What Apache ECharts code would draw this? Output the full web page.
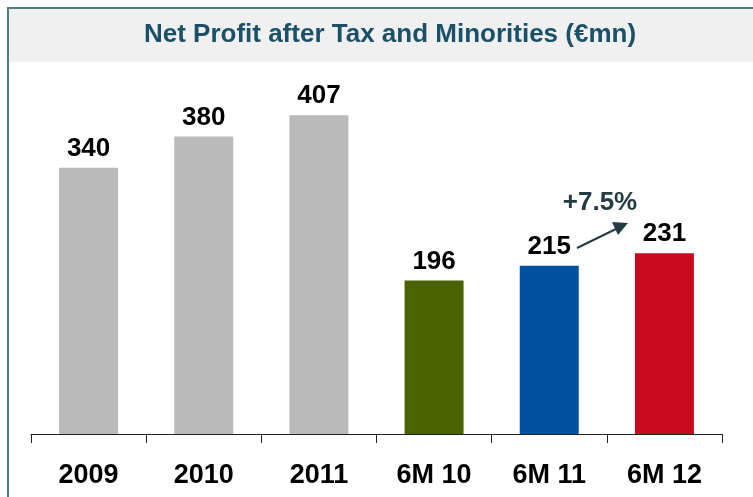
<!DOCTYPE html>
<html>
<head>
<meta charset="utf-8">
<script src="https://cdn.jsdelivr.net/npm/echarts@6/dist/echarts.min.js"></script>
<style>
html,body{margin:0;padding:0;background:#fff;}
#chart{width:753px;height:497px;}
</style>
</head>
<body>
<div id="chart"></div>
<script>
//数据
var categories = ['2009', '2010', '2011', '6M 10', '6M 11', '6M 12'];
var profitValues = [340, 380, 407, 196, 215, 231];
var barColors = ['#bababa', '#bababa', '#bababa', '#4a6300', '#0050a0', '#c80b1e'];
var growthLabel = '+7.5%';

//初始化图表
var myChart = echarts.init(document.getElementById('chart'));
var font = 'Liberation Sans, Arial, sans-serif';
var arrowColor = '#253b43';

var barData = [];
for (var i = 0; i < profitValues.length; i++) {
	barData.push({value: profitValues[i], itemStyle: {color: barColors[i]}});
}

option = {
	animation: false,
	grid: {left: 31, right: 31, top: 42.5, bottom: 63},
	xAxis: {
		type: 'category',
		data: categories,
		axisLine: {lineStyle: {color: '#222', width: 1}},
		axisTick: {show: true, length: 9, lineStyle: {color: '#222'}},
		axisLabel: {
			color: '#000',
			fontFamily: font,
			fontWeight: 'bold',
			fontSize: 27,
			margin: 28
		}
	},
	yAxis: {
		type: 'value',
		min: 0,
		max: 500,
		show: false,
		splitLine: {show: false}
	},
	graphic: [
		{
			type: 'rect',
			shape: {x: 8, y: 8, width: 760, height: 54},
			style: {fill: '#f0f0f0'},
			z: -1
		},
		{
			type: 'rect',
			shape: {x: 8, y: 8, width: 760, height: 510},
			style: {fill: null, stroke: '#4e7a8e', lineWidth: 2},
			z: 10
		},
		{
			type: 'text',
			x: 390,
			y: 35,
			style: {
				text: 'Net Profit after Tax and Minorities (€mn)',
				fill: '#1a5068',
				font: 'bold 26px ' + font,
				textAlign: 'center',
				textVerticalAlign: 'middle'
			}
		},
		{
			type: 'line',
			shape: {x1: 577, y1: 248, x2: 618, y2: 228},
			style: {stroke: arrowColor, lineWidth: 2}
		},
		{
			type: 'polygon',
			shape: {points: [[628, 223], [612, 222], [618, 235]]},
			style: {fill: arrowColor}
		},
		{
			type: 'text',
			x: 600,
			y: 203,
			style: {
				text: growthLabel,
				fill: arrowColor,
				font: 'bold 26px ' + font,
				textAlign: 'center',
				textVerticalAlign: 'middle'
			}
		}
	],
	series: [
		{
			type: 'bar',
			data: barData,
			barWidth: 59,
			label: {
				show: true,
				position: 'top',
				distance: 6,
				color: '#000',
				fontFamily: font,
				fontWeight: 'bold',
				fontSize: 26
			}
		}
	]
};
myChart.setOption(option);
</script>
</body>
</html>
